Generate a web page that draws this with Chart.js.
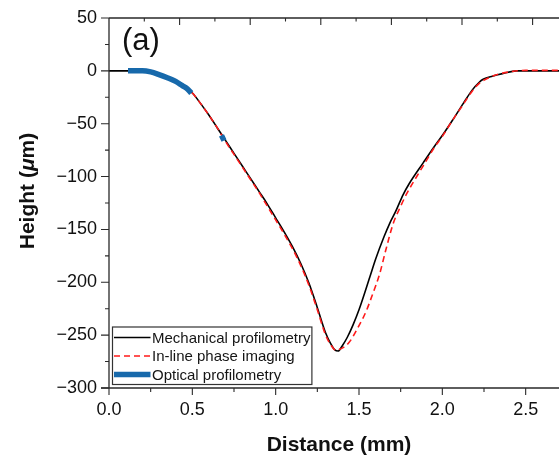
<!DOCTYPE html>
<html>
<head>
<meta charset="utf-8">
<script src="https://cdn.jsdelivr.net/npm/chart.js@4.4.1/dist/chart.umd.min.js"></script>
<style>
  html, body { margin: 0; padding: 0; background: #fff; }
  #wrap { width: 559px; height: 456px; }
</style>
</head>
<body>
<div id="wrap"><canvas id="chart" width="559" height="456"></canvas></div>
<script>
// mechanical profilometry (black)
var mechX = [0, 0.1, 0.2, 0.25, 0.3, 0.35, 0.4, 0.45, 0.5, 0.55, 0.6, 0.65, 0.7, 0.75, 0.8, 0.85, 0.9, 0.95, 1.0,
    1.05, 1.1, 1.15, 1.2, 1.25, 1.3, 1.33, 1.355, 1.375, 1.4, 1.43, 1.465, 1.5, 1.565, 1.6, 1.65, 1.685,
    1.72, 1.765, 1.8, 1.885, 1.95, 2.005, 2.06, 2.125, 2.18, 2.22, 2.245, 2.3, 2.365, 2.445, 2.55, 2.7];
var mechY = [0, 0, 0, -1, -3, -6, -10, -15, -21, -31, -42, -54, -66, -78, -90, -102, -114, -126, -139,
    -152, -166, -182, -201, -224, -248, -258, -264, -265, -260, -252, -240, -226, -195, -178, -157, -144,
    -133, -117, -107, -87, -72, -60, -47, -31, -18, -11, -8, -5, -2.5, 0, 0, 0];

// in-line phase imaging (red dashed)
var phaseX = [0.45, 0.5, 0.55, 0.6, 0.65, 0.7, 0.75, 0.8, 0.85, 0.9, 0.95, 1.0, 1.05, 1.1, 1.15, 1.2, 1.25, 1.3,
    1.33, 1.36, 1.39, 1.44, 1.5, 1.544, 1.58, 1.624, 1.66, 1.704, 1.75, 1.787, 1.85, 1.9, 1.95, 2.0, 2.06, 2.12,
    2.18, 2.22, 2.26, 2.32, 2.4, 2.5, 2.7];
var phaseY = [-15, -21, -31, -42, -54, -67, -79, -91, -103, -115, -128, -141, -154, -168, -184, -203, -226, -250,
    -259, -264, -263, -257, -241, -227, -212, -192, -170, -145, -128, -116, -99, -86, -73, -62, -47, -33,
    -19, -12, -8, -4, -1, 0.5, 0.5];

// optical profilometry (blue, with a gap)
var optX = [0.114, 0.15, 0.2, 0.25, 0.3, 0.35, 0.4, 0.44, 0.47, 0.494, 0.58, 0.675, 0.69];
var optY = [0, 0, 0, -1, -3.5, -6.5, -10, -14, -17, -21, null, -61, -66];

var xTicks = [0, 0.5, 1.0, 1.5, 2.0, 2.5];
var yTicks = [50, 0, -50, -100, -150, -200, -250, -300];
var xMinorStep = 0.25, yMinorStep = 25, topStep = 0.2118;

var FONT = '"Liberation Sans", Arial, Helvetica, sans-serif';
var AXIS = '#2a2a2a';

function pts(xs, ys) {
    return xs.map(function(x, i) { return {x: x, y: ys[i]}; });
}

var frame = {
    id: 'frame',
    afterDraw: function(chart) {
        var ctx = chart.ctx, a = chart.chartArea;
        var sx = chart.scales.x, sy = chart.scales.y;
        ctx.save();
        ctx.strokeStyle = AXIS;
        ctx.lineWidth = 1.3;
        ctx.beginPath();
        ctx.moveTo(a.left, a.top); ctx.lineTo(a.right, a.top);
        ctx.moveTo(a.left, a.top); ctx.lineTo(a.left, a.bottom);
        ctx.moveTo(a.left - 8, a.bottom); ctx.lineTo(a.right, a.bottom);
        ctx.stroke();

        ctx.lineWidth = 1.1;
        ctx.beginPath();
        // left ticks (outward)
        for (var v = sy.min; v <= sy.max + 0.01; v += yMinorStep) {
            var py = sy.getPixelForValue(v);
            var len = (v % 50 === 0) ? 8 : 4;
            ctx.moveTo(a.left - len, py); ctx.lineTo(a.left, py);
        }
        // bottom ticks (outward)
        for (var k = 0; k * xMinorStep <= sx.max; k++) {
            var px = sx.getPixelForValue(k * xMinorStep);
            var l2 = (k % 2 === 0) ? 7 : 4;
            ctx.moveTo(px, a.bottom); ctx.lineTo(px, a.bottom + l2);
        }
        // top ticks (inward)
        for (var j = 1; j * topStep <= sx.max; j++) {
            var tx = sx.getPixelForValue(j * topStep);
            var l3 = (j % 2 === 0) ? 7 : 3.5;
            ctx.moveTo(tx, a.top); ctx.lineTo(tx, a.top + l3);
        }
        ctx.stroke();

        // panel label
        ctx.fillStyle = '#111';
        ctx.font = '31px ' + FONT;
        ctx.textBaseline = 'alphabetic';
        ctx.textAlign = 'left';
        ctx.fillText('(a)', a.left + 13, a.top + 32);

        // x title
        ctx.font = 'bold 21px ' + FONT;
        ctx.textAlign = 'center';
        ctx.fillText('Distance (mm)', 339, 451);

        // y title with italic mu
        var parts = [['Height (', 'bold 21px '], ['\u03bc', 'italic bold 21px '], ['m)', 'bold 21px ']];
        var total = 0;
        parts.forEach(function(p) { ctx.font = p[1] + FONT; total += ctx.measureText(p[0]).width; });
        ctx.translate(34, 191);
        ctx.rotate(-Math.PI / 2);
        ctx.textAlign = 'left';
        var cx = -total / 2;
        parts.forEach(function(p) {
            ctx.font = p[1] + FONT;
            ctx.fillText(p[0], cx, 0);
            cx += ctx.measureText(p[0]).width;
        });
        ctx.restore();

        // legend inside plot, bottom-left
        ctx.save();
        ctx.font = '15px ' + FONT;
        var sets = chart.data.datasets;
        var wmax = 0;
        sets.forEach(function(d) { wmax = Math.max(wmax, ctx.measureText(d.label).width); });
        var bx = a.left + 3.5, by = a.bottom - 61, rowH = 18.5;
        var bw = 2 + 36 + 2 + wmax + 1, bh = 57.5;
        ctx.strokeStyle = '#333';
        ctx.lineWidth = 1.2;
        ctx.strokeRect(bx, by, bw, bh);
        sets.forEach(function(d, i) {
            var ry = by + 10.5 + i * rowH;
            ctx.beginPath();
            ctx.strokeStyle = d.borderColor;
            ctx.lineWidth = d.borderWidth;
            ctx.setLineDash(d.borderDash || []);
            ctx.lineCap = 'butt';
            ctx.moveTo(bx + 1.5, ry); ctx.lineTo(bx + 38, ry);
            ctx.stroke();
            ctx.setLineDash([]);
            ctx.fillStyle = '#151515';
            ctx.textBaseline = 'middle';
            ctx.textAlign = 'left';
            ctx.fillText(d.label, bx + 39.5, ry + 1);
        });
        ctx.restore();
    }
};

function noPad(s) { s.paddingTop = 0; s.paddingBottom = 0; }

new Chart(document.getElementById('chart'), {
    type: 'line',
    data: {
        datasets: [{
            label: 'Mechanical profilometry',
            data: pts(mechX, mechY),
            borderColor: '#000',
            borderWidth: 1.6,
            order: 3
        }, {
            label: 'In-line phase imaging',
            data: pts(phaseX, phaseY),
            borderColor: '#ff1a1a',
            borderWidth: 1.6,
            borderDash: [6, 4],
            order: 2
        }, {
            label: 'Optical profilometry',
            data: pts(optX, optY),
            borderColor: '#1769ab',
            borderWidth: 5.5,
            order: 1
        }]
    },
    options: {
        responsive: false,
        animation: false,
        elements: { point: { radius: 0 }, line: { cubicInterpolationMode: 'monotone' } },
        layout: { padding: { top: 18, right: 0, left: 0, bottom: 0 } },
        plugins: { legend: { display: false }, tooltip: { enabled: false } },
        scales: {
            x: {
                type: 'linear',
                min: 0,
                max: 2.7,
                afterBuildTicks: function(s) { s.ticks = xTicks.map(function(v) { return {value: v}; }); },
                afterFit: function(s) { s.height = 68; s.paddingLeft = 0; s.paddingRight = 0; },
                grid: { display: false, drawTicks: false },
                border: { display: false },
                ticks: {
                    padding: 11,
                    color: '#111',
                    font: { family: FONT, size: 18 },
                    maxRotation: 0,
                    callback: function(v) { return Number(v).toFixed(1); }
                }
            },
            y: {
                type: 'linear',
                min: -300,
                max: 50,
                afterBuildTicks: function(s) { s.ticks = yTicks.map(function(v) { return {value: v}; }); },
                afterFit: function(s) { s.width = 109; noPad(s); },
                grid: { display: false, drawTicks: false },
                border: { display: false },
                ticks: {
                    padding: 12,
                    color: '#111',
                    font: { family: FONT, size: 18 },
                    callback: function(v) { return v < 0 ? '\u2212' + Math.abs(v) : String(v); }
                }
            }
        }
    },
    plugins: [frame]
});
</script>
</body>
</html>
